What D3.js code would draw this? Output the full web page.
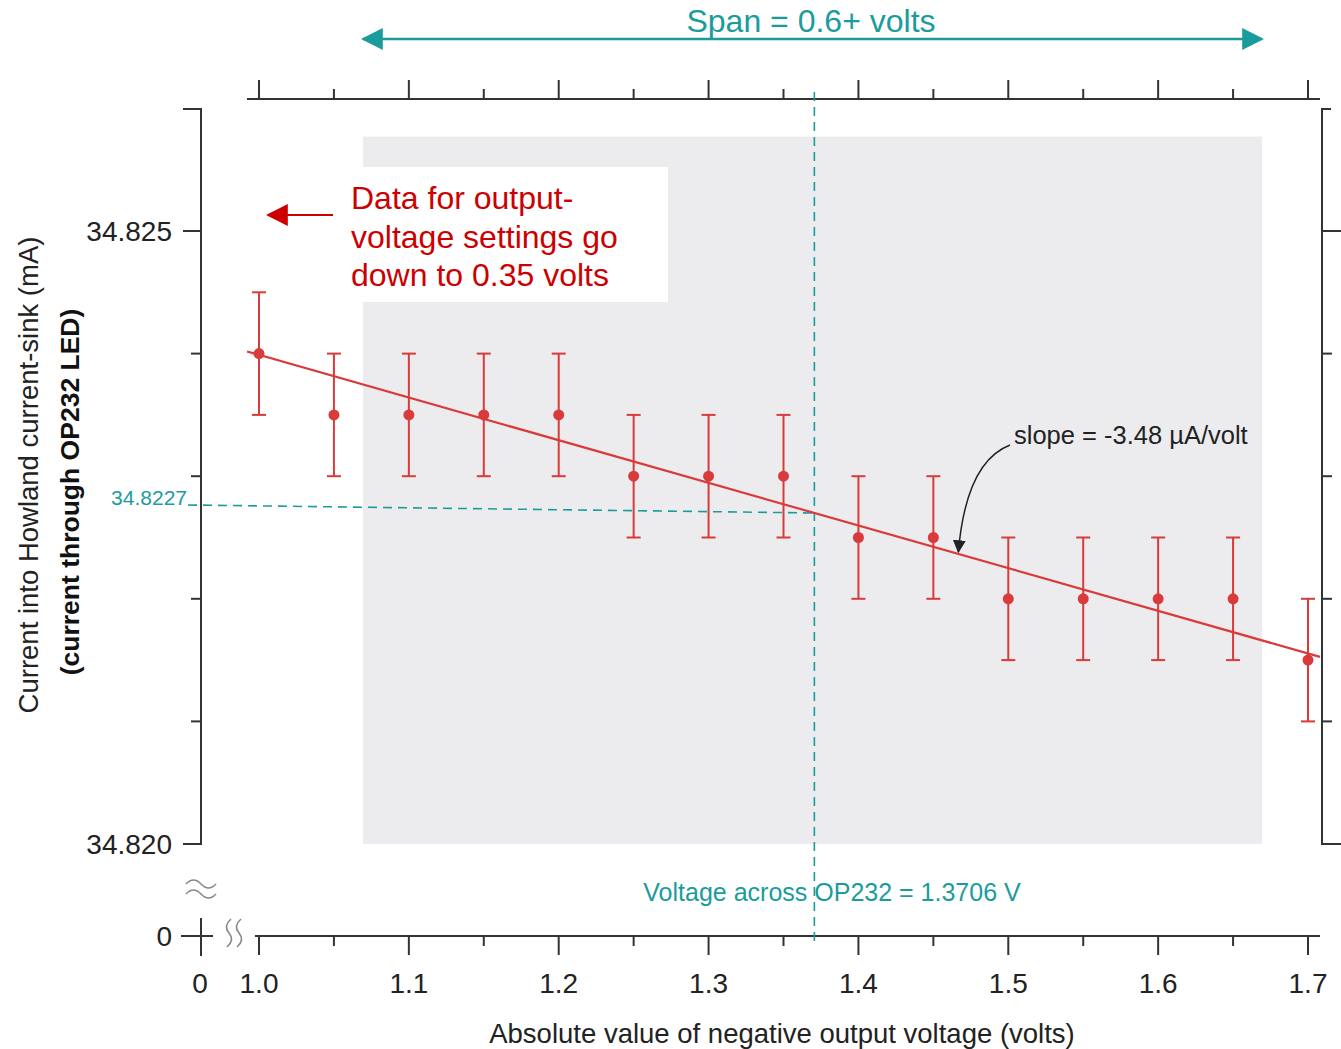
<!DOCTYPE html>
<html>
<head>
<meta charset="utf-8">
<script src="https://cdn.jsdelivr.net/npm/d3@7"></script>
<style>
  body { margin: 0; background: #fff; }
  text { font-family: "Liberation Sans", Arial, sans-serif; }
</style>
</head>
<body>
<div id="chart"></div>
<script>
// measured points
var volts = [1.00, 1.05, 1.10, 1.15, 1.20, 1.25, 1.30, 1.35, 1.40, 1.45, 1.50, 1.55, 1.60, 1.65, 1.70];
var current = [34.8240, 34.8235, 34.8235, 34.8235, 34.8235, 34.8230, 34.8230, 34.8230,
               34.8225, 34.8225, 34.8220, 34.8220, 34.8220, 34.8220, 34.8215];
var errHalf = [0.0005, 0.0005, 0.0005, 0.0005, 0.0005, 0.0005, 0.0005, 0.0005,
               0.0005, 0.0005, 0.0005, 0.0005, 0.0005, 0.0005, 0.0005];

// fit + markers
var fitSlope = -0.00348;          // mA per volt
var ledVoltage = 1.3706;
var ledCurrent = 34.8227;
var fitRange = [0.992, 1.708];
var spanRange = [1.0694, 1.6693];
var xMajor = [1.0, 1.1, 1.2, 1.3, 1.4, 1.5, 1.6, 1.7];
var xMinor = [1.05, 1.15, 1.25, 1.35, 1.45, 1.55, 1.65];
var yMajor = [34.820, 34.825];
var yMinor = [34.821, 34.822, 34.823, 34.824];

var W = 1341, H = 1049;
var teal = "#1a9c9c", red = "#d93a3a", dark = "#333";

var svg = d3.select("#chart").append("svg")
    .attr("width", W)
    .attr("height", H);

var defs = svg.append("defs");
function marker(id, color, size) {
  defs.append("marker")
      .attr("id", id)
      .attr("viewBox", "0 0 10 10")
      .attr("refX", 9).attr("refY", 5)
      .attr("markerWidth", size).attr("markerHeight", size)
      .attr("markerUnits", "userSpaceOnUse")
      .attr("orient", "auto-start-reverse")
    .append("path")
      .attr("d", "M0,0 L10,5 L0,10 Z")
      .attr("fill", color);
}
marker("arrTeal", teal, 22);
marker("arrRed", "#cc0000", 22);
marker("arrDark", "#222", 13);

var x = d3.scaleLinear().domain([1.0, 1.7]).range([259, 1308]);
var y = d3.scaleLinear().domain([34.820, 34.825]).range([844, 231]);

// grey span region
svg.append("rect")
    .attr("x", x(spanRange[0]))
    .attr("y", y(34.82577))
    .attr("width", x(spanRange[1]) - x(spanRange[0]))
    .attr("height", y(34.820) - y(34.82577))
    .attr("fill", "#ececee");

// span arrow
svg.append("line")
    .attr("x1", x(spanRange[0])).attr("x2", x(spanRange[1]))
    .attr("y1", 39).attr("y2", 39)
    .attr("stroke", teal).attr("stroke-width", 2.5)
    .attr("marker-start", "url(#arrTeal)")
    .attr("marker-end", "url(#arrTeal)");

svg.append("text")
    .attr("x", 811).attr("y", 32)
    .attr("text-anchor", "middle")
    .attr("font-size", "32px")
    .attr("fill", teal)
    .text("Span = 0.6+ volts");

// top axis
var topAxis = svg.append("g").attr("stroke", dark).attr("stroke-width", 2);
topAxis.append("line").attr("x1", 247).attr("x2", 1320).attr("y1", 99).attr("y2", 99);
topAxis.selectAll(".maj").data(xMajor).enter().append("line")
    .attr("x1", d => x(d)).attr("x2", d => x(d)).attr("y1", 99).attr("y2", 80);
topAxis.selectAll(".min").data(xMinor).enter().append("line")
    .attr("x1", d => x(d)).attr("x2", d => x(d)).attr("y1", 99).attr("y2", 89);

// left axis
var leftAxis = svg.append("g").attr("stroke", dark).attr("stroke-width", 2);
leftAxis.append("path").attr("fill", "none")
    .attr("d", "M183,109 H201 V" + y(34.820) + " H183");
leftAxis.selectAll(".maj").data(yMajor).enter().append("line")
    .attr("x1", 183).attr("x2", 201).attr("y1", d => y(d)).attr("y2", d => y(d));
leftAxis.selectAll(".min").data(yMinor).enter().append("line")
    .attr("x1", 191).attr("x2", 201).attr("y1", d => y(d)).attr("y2", d => y(d));

svg.selectAll(".ylab").data(yMajor).enter().append("text")
    .attr("x", 172).attr("y", d => y(d) + 10)
    .attr("text-anchor", "end")
    .attr("font-size", "28px")
    .attr("fill", "#222")
    .text(d => d3.format(".3f")(d));

// right axis
var rightAxis = svg.append("g").attr("stroke", dark).attr("stroke-width", 2);
rightAxis.append("path").attr("fill", "none")
    .attr("d", "M1331,109 H1322 V" + y(34.820) + " H1341");
rightAxis.selectAll(".maj").data([34.825]).enter().append("line")
    .attr("x1", 1322).attr("x2", 1341).attr("y1", d => y(d)).attr("y2", d => y(d));
rightAxis.selectAll(".min").data(yMinor).enter().append("line")
    .attr("x1", 1322).attr("x2", 1332).attr("y1", d => y(d)).attr("y2", d => y(d));

// bottom axis
var botAxis = svg.append("g").attr("stroke", dark).attr("stroke-width", 2);
botAxis.append("line").attr("x1", 255).attr("x2", 1320).attr("y1", 936).attr("y2", 936);
botAxis.selectAll(".maj").data(xMajor).enter().append("line")
    .attr("x1", d => x(d)).attr("x2", d => x(d)).attr("y1", 936).attr("y2", 955);
botAxis.selectAll(".min").data(xMinor).enter().append("line")
    .attr("x1", d => x(d)).attr("x2", d => x(d)).attr("y1", 936).attr("y2", 946);
// zero cross
botAxis.append("line").attr("x1", 181).attr("x2", 213).attr("y1", 936).attr("y2", 936);
botAxis.append("line").attr("x1", 201).attr("x2", 201).attr("y1", 918).attr("y2", 956);

svg.selectAll(".xlab").data(xMajor).enter().append("text")
    .attr("x", d => x(d)).attr("y", 993)
    .attr("text-anchor", "middle")
    .attr("font-size", "28px")
    .attr("fill", "#222")
    .text(d => d3.format(".1f")(d));

svg.append("text").attr("x", 200).attr("y", 993)
    .attr("text-anchor", "middle").attr("font-size", "28px").attr("fill", "#222").text("0");
svg.append("text").attr("x", 172).attr("y", 946)
    .attr("text-anchor", "end").attr("font-size", "28px").attr("fill", "#222").text("0");

// axis breaks (wavy double lines)
var breaks = svg.append("g")
    .attr("fill", "none").attr("stroke", "#888").attr("stroke-width", 1.6);
breaks.append("path").attr("d", "M186,884 q7.5,-8 15,0 t15,0");
breaks.append("path").attr("d", "M186,894 q7.5,-8 15,0 t15,0");
breaks.append("path").attr("d", "M231,919 q-8,7 -2,14 t-2,14");
breaks.append("path").attr("d", "M241,919 q-8,7 -2,14 t-2,14");

// axis titles
svg.append("text")
    .attr("transform", "translate(38,475) rotate(-90)")
    .attr("text-anchor", "middle")
    .attr("font-size", "27.5px")
    .attr("fill", "#222")
    .text("Current into Howland current-sink (mA)");
svg.append("text")
    .attr("transform", "translate(79,492) rotate(-90)")
    .attr("text-anchor", "middle")
    .attr("font-size", "26.5px")
    .attr("font-weight", "bold")
    .attr("fill", "#111")
    .text("(current through OP232 LED)");
svg.append("text")
    .attr("x", 782).attr("y", 1043)
    .attr("text-anchor", "middle")
    .attr("font-size", "27.5px")
    .attr("fill", "#222")
    .text("Absolute value of negative output voltage (volts)");

// LED operating point guides
var guides = svg.append("g")
    .attr("stroke", teal).attr("stroke-width", 1.6)
    .attr("stroke-dasharray", "9,6");
guides.append("line")
    .attr("x1", x(ledVoltage)).attr("x2", x(ledVoltage))
    .attr("y1", 92).attr("y2", 942);
guides.append("line")
    .attr("x1", 188).attr("x2", x(ledVoltage))
    .attr("y1", y(ledCurrent) - 8).attr("y2", y(ledCurrent));

svg.append("text")
    .attr("x", 187).attr("y", y(ledCurrent) - 8)
    .attr("text-anchor", "end")
    .attr("font-size", "21px")
    .attr("fill", teal)
    .text(d3.format(".4f")(ledCurrent));

svg.append("text")
    .attr("x", 832).attr("y", 901)
    .attr("text-anchor", "middle")
    .attr("font-size", "25px")
    .attr("fill", teal)
    .text("Voltage across OP232 = " + ledVoltage + " V");

// fit line
var fit = v => ledCurrent + fitSlope * (v - ledVoltage);
svg.append("line")
    .attr("x1", x(fitRange[0])).attr("y1", y(fit(fitRange[0])))
    .attr("x2", x(fitRange[1])).attr("y2", y(fit(fitRange[1])))
    .attr("stroke", red).attr("stroke-width", 2.2);

// error bars + points
var pts = svg.append("g").selectAll("g")
    .data(volts.map((v, i) => ({ v: v, c: current[i], e: errHalf[i] })))
  .enter().append("g")
    .attr("stroke", red).attr("stroke-width", 2);
pts.append("line")
    .attr("x1", d => x(d.v)).attr("x2", d => x(d.v))
    .attr("y1", d => y(d.c + d.e)).attr("y2", d => y(d.c - d.e));
pts.append("line")
    .attr("x1", d => x(d.v) - 7).attr("x2", d => x(d.v) + 7)
    .attr("y1", d => y(d.c + d.e)).attr("y2", d => y(d.c + d.e));
pts.append("line")
    .attr("x1", d => x(d.v) - 7).attr("x2", d => x(d.v) + 7)
    .attr("y1", d => y(d.c - d.e)).attr("y2", d => y(d.c - d.e));
pts.append("circle")
    .attr("cx", d => x(d.v)).attr("cy", d => y(d.c))
    .attr("r", 5.5)
    .attr("stroke", "none")
    .attr("fill", red);

// slope annotation
svg.append("text")
    .attr("x", 1014).attr("y", 444)
    .attr("font-size", "25.5px")
    .attr("fill", "#222")
    .text("slope = -3.48 \u00b5A/volt");
var tipX = x(1.4667);
svg.append("path")
    .attr("d", "M1010,445 Q966,462 " + tipX + "," + (y(fit(1.4667)) - 2))
    .attr("fill", "none")
    .attr("stroke", "#222").attr("stroke-width", 1.5)
    .attr("marker-end", "url(#arrDark)");

// red note box
svg.append("rect")
    .attr("x", 333).attr("y", 167)
    .attr("width", 335).attr("height", 135)
    .attr("fill", "#fff");
var note = ["Data for output-", "voltage settings go", "down to 0.35 volts"];
svg.append("g").selectAll("text").data(note).enter().append("text")
    .attr("x", 351).attr("y", (d, i) => 209 + i * 38.5)
    .attr("font-size", "32px")
    .attr("fill", "#cc0000")
    .text(d => d);
svg.append("line")
    .attr("x1", 333).attr("x2", 268)
    .attr("y1", 215).attr("y2", 215)
    .attr("stroke", "#cc0000").attr("stroke-width", 2)
    .attr("marker-end", "url(#arrRed)");
</script>
</body>
</html>
